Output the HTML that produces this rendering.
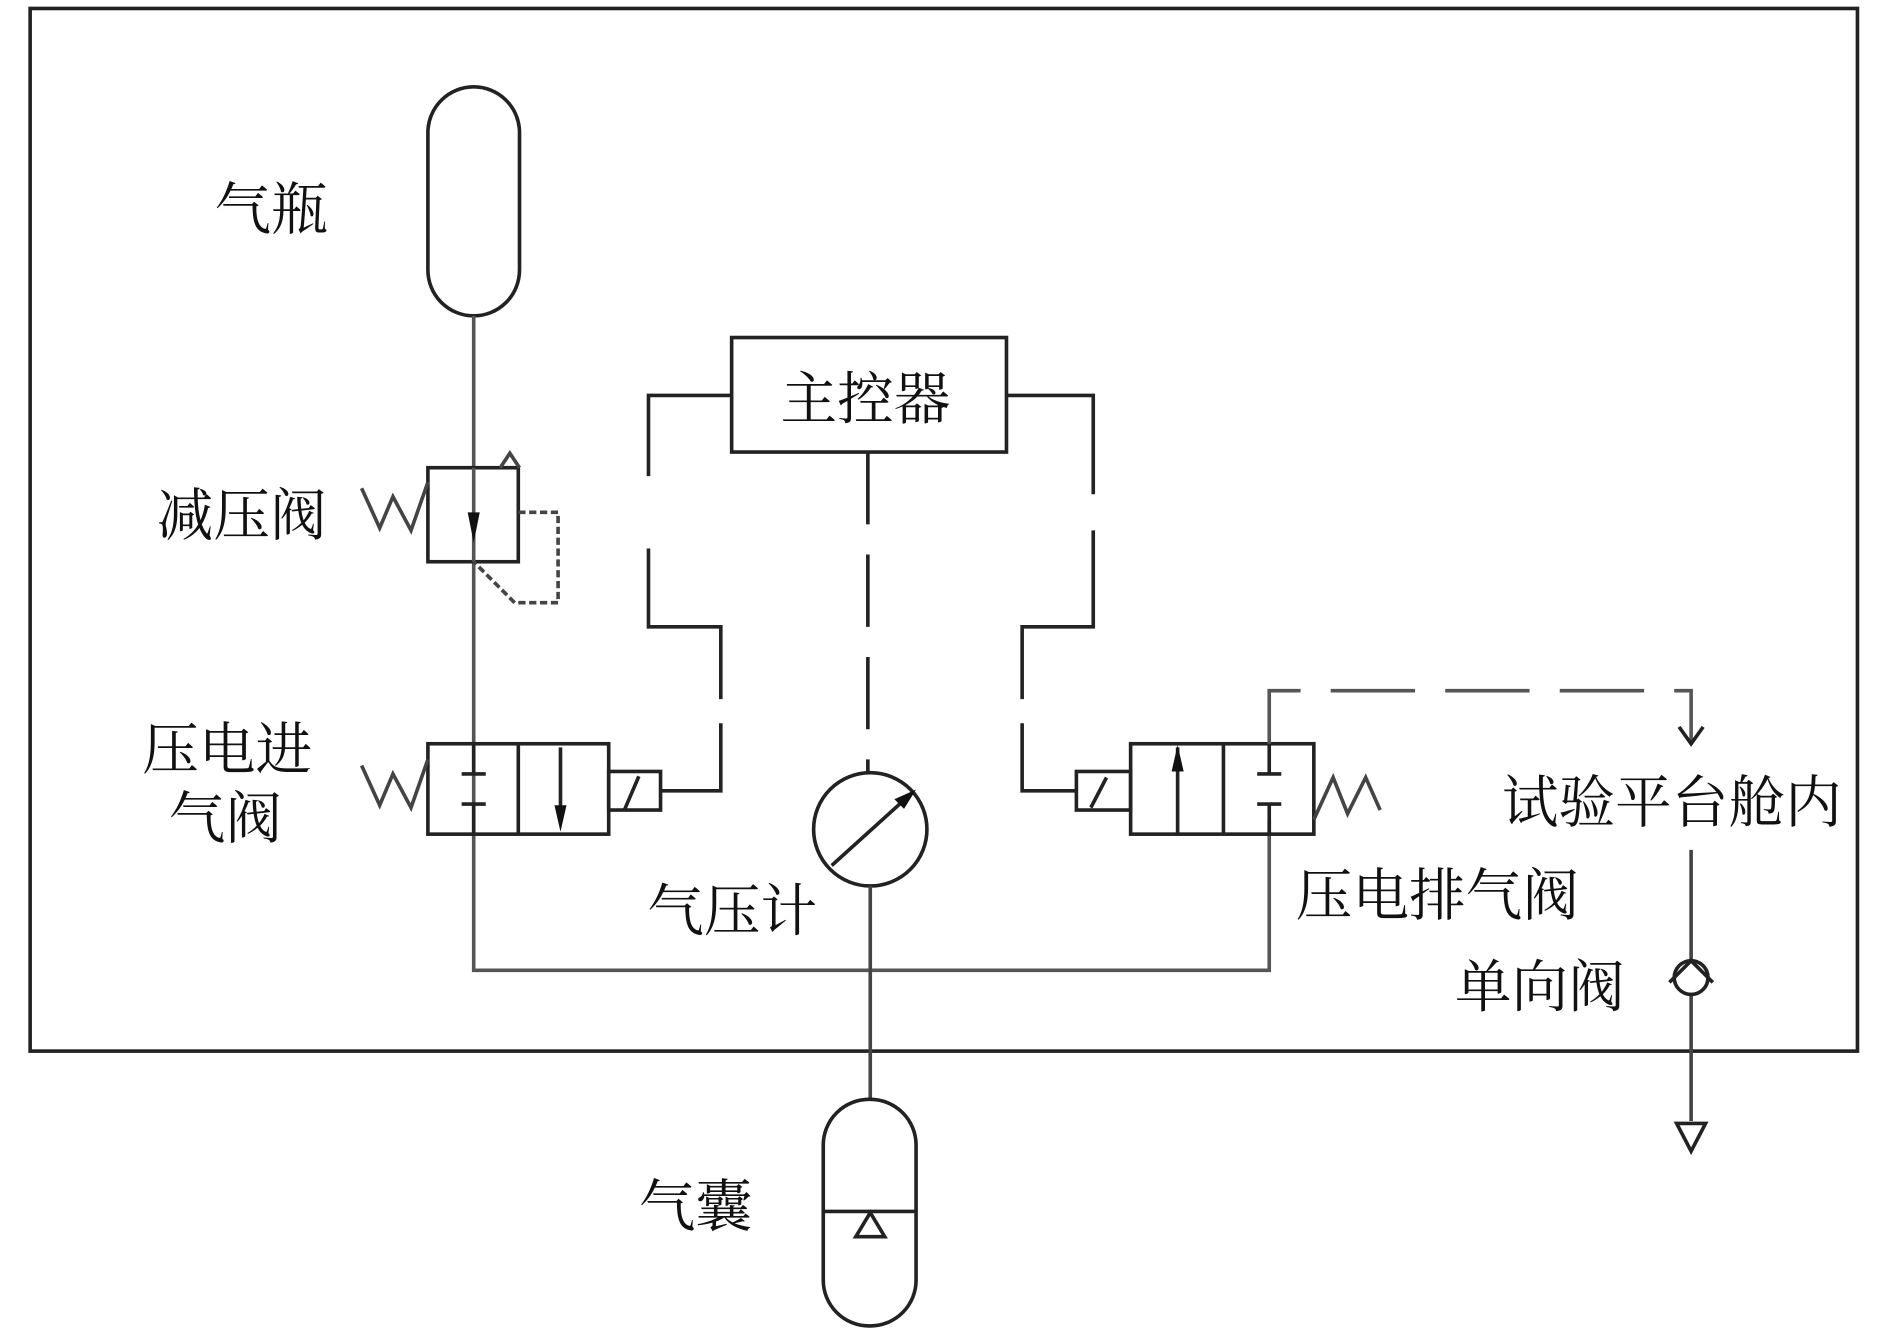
<!DOCTYPE html>
<html><head><meta charset="utf-8"><style>html,body{margin:0;padding:0;background:#fff}svg{display:block}</style></head><body>
<svg width="1890" height="1332" viewBox="0 0 1568 1105" xmlns="http://www.w3.org/2000/svg" font-family="'Liberation Serif','Noto Serif CJK SC','Noto Sans CJK SC',serif" font-size="47" fill="none" stroke="#222" stroke-width="3">
<rect x="25" y="7" width="1516" height="865"/>
<rect x="355" y="72" width="76" height="190" rx="38"/>
<path d="M393 262V805H1053V680" stroke="#555"/>
<rect x="355" y="388" width="75" height="78" fill="#fff"/>
<line x1="393" y1="388" x2="393" y2="466" stroke="#555"/>
<path d="M388 425h10l-5 25z" fill="#111" stroke="none"/>
<path d="M300 405L315 438L326 412L341 440L355 400" stroke="#444"/>
<path d="M430 425H463V500H427L393 466" stroke-dasharray="6 3" stroke="#444"/>
<path d="M415 388L423 376L431 388" stroke="#444"/>
<rect x="355" y="617" width="150" height="75"/>
<line x1="430" y1="617" x2="430" y2="692"/>
<path d="M393 617V642M383 642H403M383 667H403M393 667V692" />
<line x1="465" y1="620" x2="465" y2="678"/>
<path d="M460 668h10l-5 22z" fill="#111" stroke="none"/>
<path d="M300 635L315 668L326 642L341 670L355 630" stroke="#444"/>
<rect x="505" y="640" width="43" height="32"/>
<line x1="518" y1="672" x2="530" y2="644"/>
<path d="M548 656H598V600M598 580V520H538V455M538 395V328H607" />
<rect x="607" y="280" width="228" height="95"/>
<text x="718" y="347" text-anchor="middle" fill="#111" stroke="none">主控器</text>
<path d="M720 375V640" stroke-dasharray="60 25"/>
<path d="M835 328H907V410M907 440V520H848V580M848 600V656H893"/>
<circle cx="722" cy="688" r="47"/>
<line x1="690" y1="718" x2="752" y2="662"/>
<path d="M760 655l-18 8l8 8z" fill="#111" stroke="none"/>
<line x1="722" y1="735" x2="722" y2="912" stroke="#444"/>
<rect x="938" y="617" width="152" height="75"/>
<line x1="1015" y1="617" x2="1015" y2="692"/>
<line x1="977" y1="620" x2="977" y2="692"/>
<path d="M972 640h10l-5 -22z" fill="#111" stroke="none"/>
<path d="M1053 617V642M1043 642H1063M1043 667H1063M1053 667V692"/>
<rect x="893" y="640" width="45" height="32"/>
<line x1="905" y1="670" x2="918" y2="645"/>
<path d="M1090 680L1106 645L1118 675L1133 645L1145 672" stroke="#444"/>
<path d="M1053 617V573H1403V615" stroke-dasharray="70 25" stroke="#555"/>
<path d="M1393 603L1403 617L1413 603"/>
<path d="M1403 705V797M1403 825V930" stroke="#444"/>
<circle cx="1403" cy="811" r="14"/>
<path d="M1385 815L1403 797L1421 815"/>
<path d="M1391 932H1415L1403 955Z"/>
<rect x="683" y="912" width="77" height="188" rx="38"/>
<line x1="683" y1="1005" x2="760" y2="1005"/>
<path d="M710 1026L722 1006L734 1026Z" />
<g fill="#111" stroke="none">
<text x="178" y="190">气瓶</text>
<text x="130" y="444">减压阀</text>
<text x="118" y="638">压电进</text>
<text x="140" y="695">气阀</text>
<text x="537" y="772">气压计</text>
<text x="1075" y="759">压电排气阀</text>
<text x="1246" y="682">试验平台舱内</text>
<text x="1207" y="835">单向阀</text>
<text x="530" y="1017">气囊</text>
</g>
</svg>
</body></html>
